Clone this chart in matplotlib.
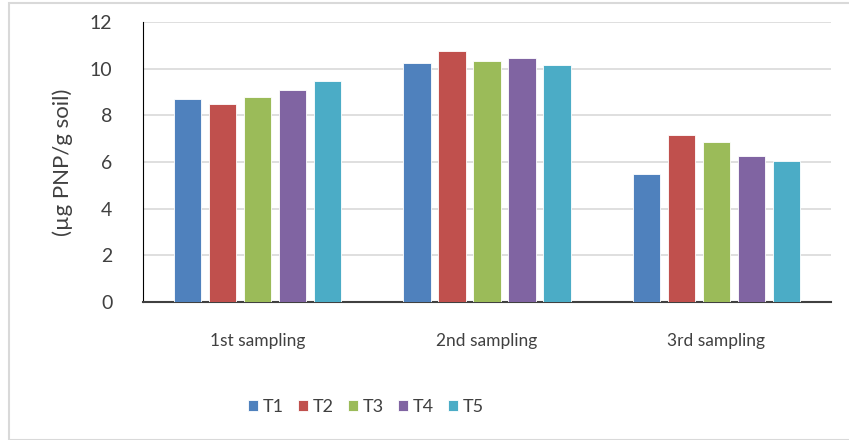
import matplotlib
matplotlib.use("Agg")
import matplotlib.pyplot as plt
from matplotlib.patches import Rectangle
import numpy as np

categories = ["1st sampling", "2nd sampling", "3rd sampling"]
series_names = ["T1", "T2", "T3", "T4", "T5"]
T1 = [8.68, 10.23, 5.49]
T2 = [8.50, 10.77, 7.14]
T3 = [8.79, 10.33, 6.86]
T4 = [9.07, 10.44, 6.26]
T5 = [9.46, 10.16, 6.03]
values = [T1, T2, T3, T4, T5]
colors = ["#4F81BD", "#C0504D", "#9BBB59", "#8064A2", "#4BACC6"]
yticks = [0, 2, 4, 6, 8, 10, 12]

plt.rcParams['font.family'] = ['Lato', 'DejaVu Sans']
fig = plt.figure(figsize=(8.49, 4.40), dpi=100)
W, H = 849, 440
ax = fig.add_axes([143 / W, 1 - 302 / H, (831 - 143) / W, (302 - 22) / H])

x = np.arange(len(categories))
pitch = 0.1526
bw = 0.118
for i, (name, vals, c) in enumerate(zip(series_names, values, colors)):
    ax.bar(x + (i - 2) * pitch, vals, width=bw, color=c, label=name,
           edgecolor="white", linewidth=0.6, zorder=3)

ax.set_xlim(-0.5, 2.5)
ax.set_ylim(0, 12)
ax.set_yticks(yticks)
ax.set_xticks(x)
ax.set_xticklabels(categories, fontsize=12.5, color="#404040")
ax.tick_params(axis='x', length=0, pad=22)
ax.tick_params(axis='y', length=0, pad=22, labelsize=14, labelcolor="#404040")
ax.grid(axis='y', color="#D9D9D9", linewidth=1.2, zorder=0)
for s in ["top", "right"]:
    ax.spines[s].set_visible(False)
ax.spines["left"].set_color("#000000")
ax.spines["bottom"].set_color("#404040")
ax.spines["bottom"].set_linewidth(1.5)
ax.set_ylabel("(µg PNP/g soil)", fontsize=16, color="#404040", labelpad=12)

fig.patches.append(Rectangle((9 / W, 0), 1, 1 - 3 / H, transform=fig.transFigure,
                             fill=False, edgecolor="#D9D9D9", linewidth=1.5))

leg = fig.legend(loc="center", bbox_to_anchor=(366 / W, 1 - 407 / H), ncol=5,
                 frameon=False, fontsize=13, handlelength=0.55, handleheight=0.55,
                 handletextpad=0.3, columnspacing=0.75, labelcolor="#404040")

fig.savefig("out.png", dpi=100)
